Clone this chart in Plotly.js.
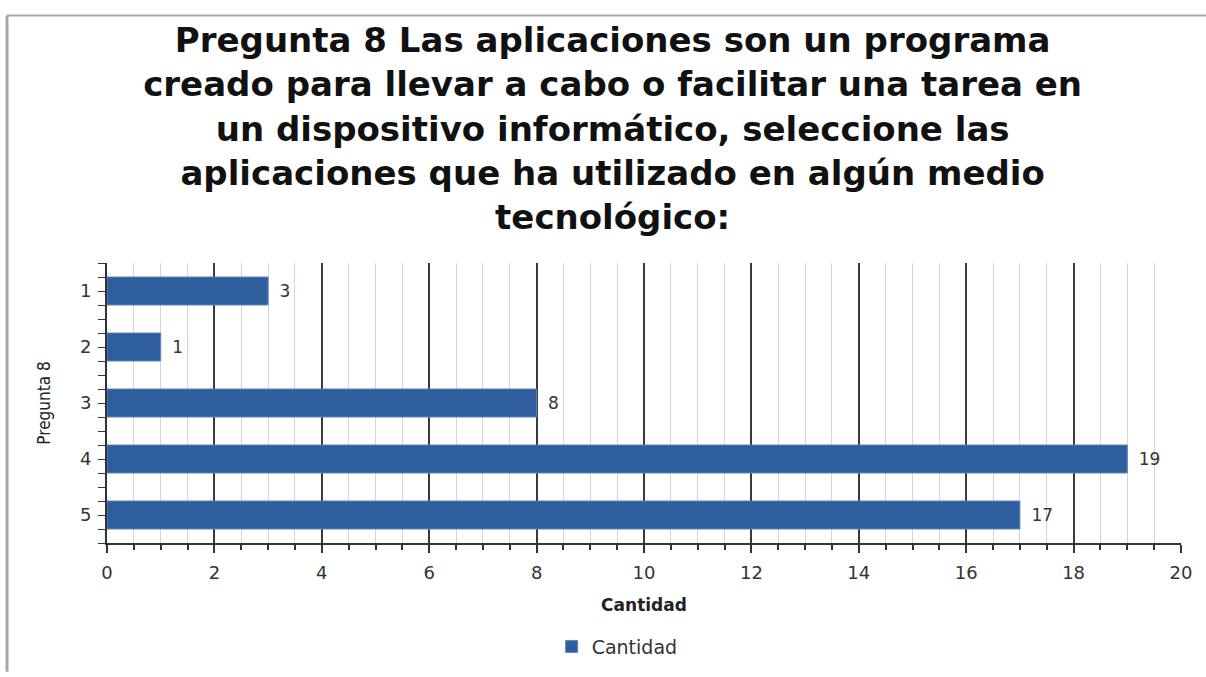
<!DOCTYPE html>
<html>
<head>
<meta charset="utf-8">
<script src="https://cdn.plot.ly/plotly-3.0.1.min.js"></script>
<style>html,body{margin:0;padding:0;background:#fff;}#chart{width:1206px;height:677px;}</style>
</head>
<body>
<div id="chart"></div>
<script>
const categories = [1, 2, 3, 4, 5];
const cantidad = [3, 1, 8, 19, 17];
const seriesName = 'Cantidad';
const titleLines = [
  'Pregunta 8 Las aplicaciones son un programa',
  'creado para llevar a cabo o facilitar una tarea en',
  'un dispositivo informático, seleccione las',
  'aplicaciones que ha utilizado en algún medio',
  'tecnológico:'
];

const trace = {
  type: 'bar',
  orientation: 'h',
  y: categories,
  x: cantidad,
  name: seriesName,
  width: 0.5,
  marker: {color: '#2f5e9e', line: {color: '#5b86c0', width: 1}},
  text: cantidad.map(v => '\u2002' + v),
  textposition: 'outside',
  cliponaxis: false,
  textfont: {family: 'DejaVu Sans', size: 17, color: '#333'},
  showlegend: true
};

const layout = {
  width: 1206, height: 677,
  margin: {l: 107, r: 25, t: 263, b: 130},
  paper_bgcolor: '#fff', plot_bgcolor: '#fff',
  title: {
    text: '<b>' + titleLines.join('<br>') + '</b>',
    font: {family: 'DejaVu Sans', size: 34, color: '#111'},
    x: 0.508, xanchor: 'center', yref: 'container', y: 0.923, yanchor: 'middle'
  },
  xaxis: {
    range: [0, 20], dtick: 2, tick0: 0,
    showgrid: true, gridcolor: '#3a3a3a', gridwidth: 1.5,
    showline: true, linecolor: '#333', linewidth: 2,
    ticks: 'outside', ticklen: 8, tickcolor: '#333', tickwidth: 2,
    zeroline: false, ticklabelstandoff: 4,
    tickfont: {family: 'DejaVu Sans', size: 18, color: '#333'},
    minor: {dtick: 0.5, showgrid: true, gridcolor: '#d4d4d4', gridwidth: 1, ticks: 'outside', ticklen: 5, tickcolor: '#333'},
    title: {text: '<b>Cantidad</b>', font: {family: 'DejaVu Sans', size: 17, color: '#222'}, standoff: 18}
  },
  yaxis: {
    range: [5.5, 0.5],
    tickvals: categories, ticktext: categories.map(String),
    ticks: '', showgrid: false, zeroline: false,
    showline: true, linecolor: '#333', linewidth: 2,
    ticklabelstandoff: 10,
    tickfont: {family: 'DejaVu Sans', size: 18, color: '#333'},
    minor: {tick0: 0.5, dtick: 0.25, ticks: 'outside', ticklen: 7, tickcolor: '#333', showgrid: false},
    title: {text: 'Pregunta 8', font: {family: 'DejaVu Sans Condensed', size: 17, color: '#222'}, standoff: 25}
  },
  legend: {
    orientation: 'h', x: 0.475, xanchor: 'center', y: -0.37, yanchor: 'middle',
    font: {family: 'DejaVu Sans', size: 19, color: '#333'}
  },
  bargap: 0.5,
  shapes: [
    {type: 'line', xref: 'paper', yref: 'paper', x0: -0.0931, x1: -0.0931, y0: 1.884, y1: -0.46, line: {color: '#a8a8a8', width: 3}},
    {type: 'line', xref: 'paper', yref: 'paper', x0: -0.0931, x1: 1.03, y0: 1.884, y1: 1.884, line: {color: '#a8a8a8', width: 2}}
  ]
};

Plotly.newPlot('chart', [trace], layout, {displayModeBar: false});
</script>
</body>
</html>
